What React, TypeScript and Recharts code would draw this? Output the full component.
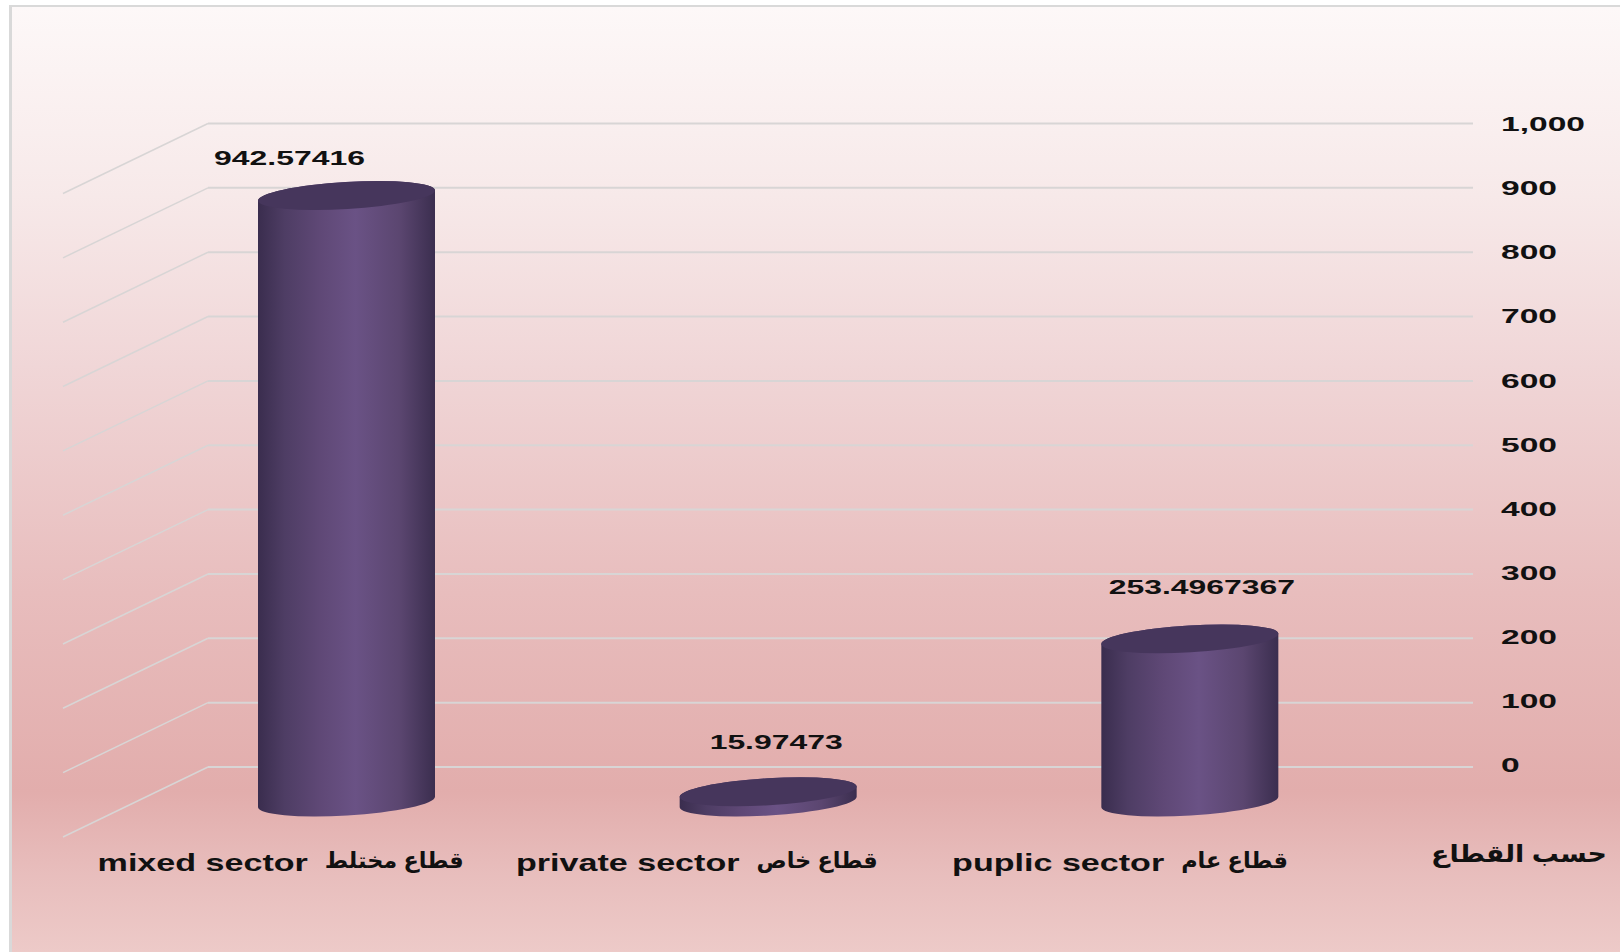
import { BarChart, Bar, XAxis, YAxis, CartesianGrid, LabelList } from "recharts";

const sectors = ["mixed sector  قطاع مختلط", "private sector  قطاع خاص", "puplic sector  قطاع عام"];
const values = [942.57416, 15.97473, 253.4967367];
const yTicks = [0, 100, 200, 300, 400, 500, 600, 700, 800, 900, 1000];
const axisTitle = "حسب القطاع";

// the labels were dragged by hand in the original, so each one has its own nudge
const labelNudge = [
  { dx: -129, dy: -2 },
  { dx: -64, dy: -15 },
  { dx: -60, dy: -17 },
];
// where the latin part of each category label ends, from the tick position
const sectorSplit = [33, 43, 46];

const chartData = sectors.map((sector, i) => ({ sector, value: values[i] }));

const FRONT_DX = -72; // fake 3D: bars stand on a plane in front of the back wall
const FRONT_DY = 35;
const TILT = (3.4 * Math.PI) / 180;
const CAP_RY = 13.5;

function StretchText({ x, y, sx, size = 20, weight = "bold", anchor = "middle", children }: any) {
  return (
    <text
      transform={`translate(${x} ${y}) scale(${sx} 1)`}
      textAnchor={anchor}
      dominantBaseline="central"
      fontFamily="'Liberation Sans', 'DejaVu Sans', sans-serif"
      fontSize={size}
      fontWeight={weight}
      fill="#111"
      style={{ whiteSpace: "pre" }}
    >
      {children}
    </text>
  );
}

function CylinderBar({ x, y, width, height }: any) {
  const left = x + FRONT_DX;
  const right = left + width;
  const cx = left + width / 2;
  const top = y + FRONT_DY;
  const bottom = y + height + FRONT_DY;
  const rise = (width / 2) * Math.tan(TILT);
  const rx = width / 2 / Math.cos(TILT);
  const deg = (-TILT * 180) / Math.PI;
  const side = [
    `M ${left} ${top + rise}`,
    `L ${left} ${bottom + rise}`,
    `A ${rx} ${CAP_RY} ${deg} 0 0 ${right} ${bottom - rise}`,
    `L ${right} ${top - rise}`,
    `A ${rx} ${CAP_RY} ${deg} 0 0 ${left} ${top + rise}`,
    "Z",
  ].join(" ");
  return (
    <g>
      <path d={side} fill="url(#cylinderSide)" />
      <ellipse cx={cx} cy={top} rx={rx} ry={CAP_RY} fill="#46365c" transform={`rotate(${deg} ${cx} ${top})`} />
    </g>
  );
}

function GridWithDepth({ x1, y1, x2, y2 }: any) {
  return (
    <g key={`grid-${y1}`}>
      <line x1={x1} y1={y1} x2={x2} y2={y2} stroke="#d8d5d5" strokeWidth={2} />
      <line x1={x1} y1={y1} x2={x1 - 145} y2={y1 + 70} stroke="#d8d5d5" strokeWidth={1.5} />
    </g>
  );
}

function ValueTick({ x, y, payload }: any) {
  // tick labels run a touch tighter than the gridlines in the original
  const labelY = y - 2 + (767 - y) * 0.004;
  return (
    <StretchText x={x} y={labelY} sx={1.6} size={21} anchor="start">
      {payload.value.toLocaleString("en-US")}
    </StretchText>
  );
}

function SectorTick({ x, y, payload, index }: any) {
  const [latin, arabic] = payload.value.split("  ");
  const split = x - 144 + sectorSplit[index];
  return (
    <g>
      <StretchText x={split} y={y + 3} sx={1.42} size={24} anchor="end">
        {latin}
      </StretchText>
      <StretchText x={split + 17} y={y + 2} sx={1.02} size={22} anchor="start">
        {arabic}
      </StretchText>
    </g>
  );
}

function ValueLabel({ x, y, width, value, index }: any) {
  const nudge = labelNudge[index];
  return (
    <StretchText x={x + width / 2 + nudge.dx} y={y + nudge.dy} sx={1.52} size={21}>
      {String(value)}
    </StretchText>
  );
}

function AxisTitle({ viewBox }: any) {
  return (
    <StretchText x={viewBox.x + viewBox.width + 46} y={854} sx={1.12} size={24}>
      {axisTitle}
    </StretchText>
  );
}

export default function App() {
  return (
    <div style={{ position: "absolute", left: 0, top: 0, width: 1620, height: 952, overflow: "hidden", background: "#fff" }}>
      <div
        style={{
          position: "absolute",
          left: 9,
          top: 5,
          right: 0,
          bottom: 0,
          borderLeft: "3px solid #d9d9d9",
          borderTop: "2px solid #d9d9d9",
          background:
            "linear-gradient(180deg, #fdf8f8 0%, #f7e9e9 20%, #f0d6d7 38%, #e8bdbd 62%, #e2adac 83%, #e8bebd 92%, #edcac8 100%)",
        }}
      />
      <div style={{ position: "absolute", left: 0, top: 0 }}>
        <BarChart
          width={1620}
          height={952}
          data={chartData}
          margin={{ top: 123.5, right: 0, bottom: 0, left: 208 }}
        >
          <defs>
            <linearGradient id="cylinderSide" x1="0" y1="0" x2="1" y2="0">
              <stop offset="0%" stopColor="#3a2d4e" />
              <stop offset="15%" stopColor="#4e3d64" />
              <stop offset="35%" stopColor="#5f4876" />
              <stop offset="55%" stopColor="#6a5285" />
              <stop offset="80%" stopColor="#5b4670" />
              <stop offset="100%" stopColor="#3b2e4f" />
            </linearGradient>
          </defs>
          <CartesianGrid vertical={false} horizontal={GridWithDepth as any} />
          <XAxis
            dataKey="sector"
            height={185}
            axisLine={false}
            tickLine={false}
            tick={SectorTick}
            tickMargin={86}
            interval={0}
            label={{ content: AxisTitle } as any}
          />
          <YAxis
            orientation="right"
            width={147}
            domain={[0, 1000]}
            ticks={yTicks}
            axisLine={false}
            tickLine={false}
            tick={ValueTick}
            tickMargin={22}
          />
          <Bar dataKey="value" barSize={177} shape={CylinderBar} isAnimationActive={false}>
            <LabelList dataKey="value" content={ValueLabel} />
          </Bar>
        </BarChart>
      </div>
    </div>
  );
}
